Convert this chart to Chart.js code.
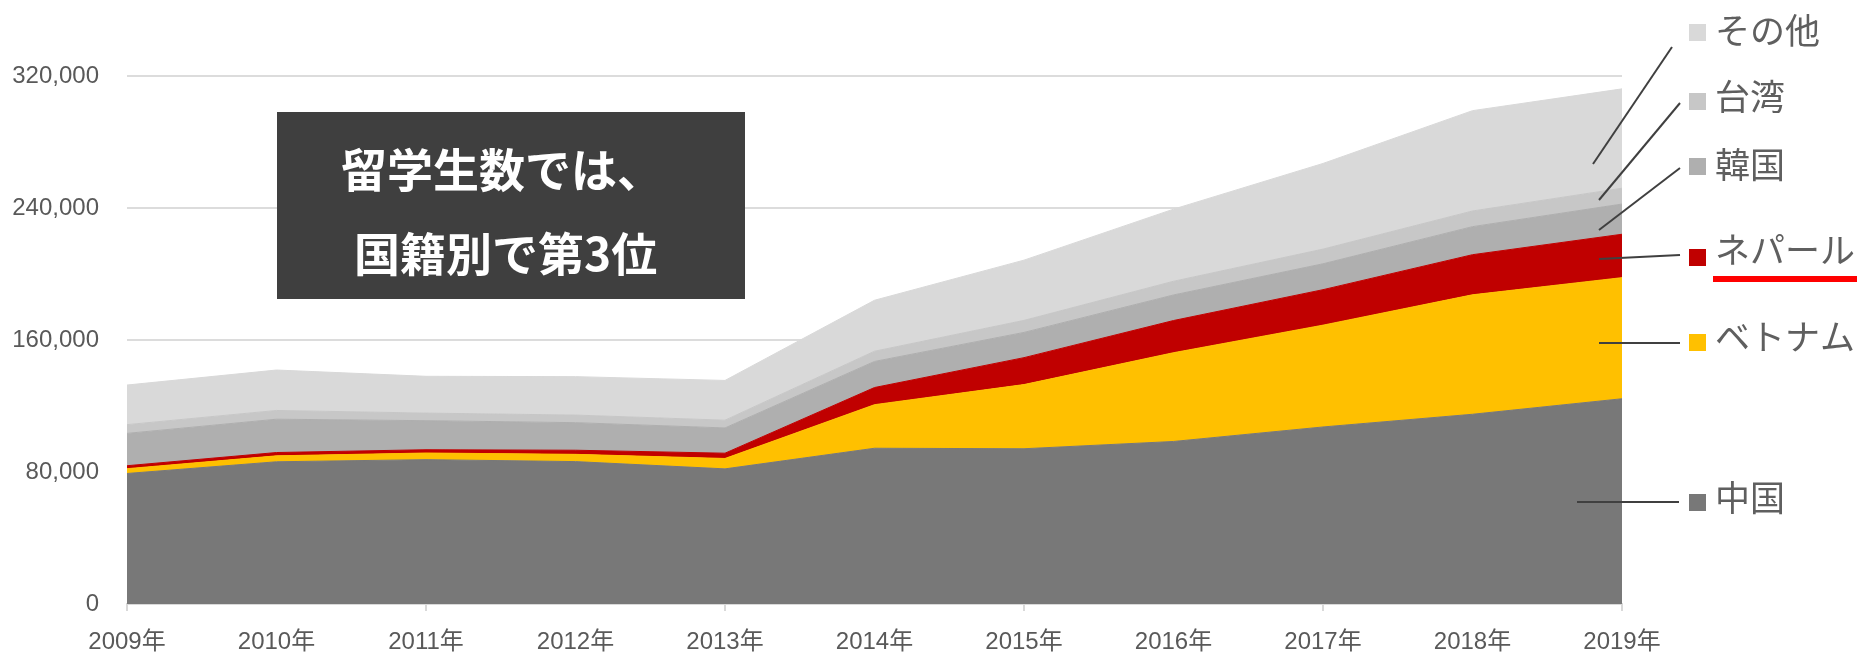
<!DOCTYPE html>
<html>
<head>
<meta charset="utf-8">
<script src="https://cdn.jsdelivr.net/npm/chart.js@4.4.1/dist/chart.umd.min.js"></script>
<style>
  html, body { margin: 0; padding: 0; background: #fff; }
</style>
</head>
<body>
<canvas id="areaChart" width="1865" height="664"></canvas>
<script>
// 在留外国人留学生数（国籍別）
var years = ["2009年", "2010年", "2011年", "2012年", "2013年", "2014年",
  "2015年", "2016年", "2017年", "2018年", "2019年"];

var china = [79100, 86200, 87500, 86300, 81900, 94400, 94100, 98500, 107300, 115000, 124400];
var vietnam = [2900, 3600, 4000, 4400, 6300, 26400, 38900, 53800, 61700, 72400, 73400];
var nepal = [1800, 2000, 2000, 2500, 3200, 10400, 16300, 19500, 21500, 24300, 26300];
var korea = [19600, 20200, 17600, 16700, 15300, 15800, 15300, 15500, 15700, 17000, 18300];
var taiwan = [5300, 5300, 4600, 4600, 4700, 6200, 7300, 8300, 8900, 9500, 9600];
var others = [24000, 24500, 22300, 23300, 24100, 30900, 36500, 43700, 51900, 60800, 60200];

var seriesNames = ["中国", "ベトナム", "ネパール", "韓国", "台湾", "その他"];
var seriesColors = ["#787878", "#ffc000", "#c00000", "#afafaf", "#c7c7c7", "#d9d9d9"];
var yTicks = [0, 80000, 160000, 240000, 320000];
var boxLines = ["留学生数では、", "国籍別で第3位"];

var seriesData = [china, vietnam, nepal, korea, taiwan, others];

// legend entries on the right, top to bottom: [square y, text y, leader line]
var legendRows = [
  { i: 5, y: 32, ty: 31, line: [1672, 47, 1593, 164] },
  { i: 4, y: 101, ty: 97, line: [1680, 103, 1599, 200] },
  { i: 3, y: 166, ty: 165, line: [1680, 168, 1599, 230] },
  { i: 2, y: 257, ty: 250, line: [1680, 255, 1599, 259] },
  { i: 1, y: 342, ty: 337, line: [1680, 343, 1599, 343] },
  { i: 0, y: 502, ty: 498, line: [1679, 502, 1577, 502] }
];

var callouts = {
  id: "callouts",
  afterDraw: function (chart) {
    var c = chart.ctx;
    c.save();

    // dark message box
    c.fillStyle = "#3f3f3f";
    c.fillRect(277, 112, 468, 187);
    c.fillStyle = "#ffffff";
    c.font = "bold 46px 'Noto Sans CJK JP', sans-serif";
    c.textAlign = "left";
    c.textBaseline = "middle";
    c.fillText(boxLines[0], 341, 170);
    c.fillText(boxLines[1], 354, 254);

    // legend with leader lines
    c.strokeStyle = "#404040";
    c.lineWidth = 2;
    legendRows.forEach(function (row) {
      var l = row.line;
      c.beginPath();
      c.moveTo(l[0], l[1]);
      c.lineTo(l[2], l[3]);
      c.stroke();

      c.fillStyle = seriesColors[row.i];
      c.fillRect(1689, row.y - 8, 17, 17);

      c.fillStyle = "#5f5f5f";
      c.font = "35px 'Noto Sans CJK JP', sans-serif";
      c.fillText(seriesNames[row.i], 1715, row.ty);
    });

    // red underline under ネパール
    c.fillStyle = "#ff0000";
    c.fillRect(1713, 276, 144, 6);

    c.restore();
  }
};

var ctx = document.getElementById("areaChart").getContext("2d");
var myChart = new Chart(ctx, {
  type: "line",
  data: {
    labels: years,
    datasets: seriesData.map(function (d, i) {
      return {
        label: seriesNames[i],
        data: d,
        backgroundColor: seriesColors[i],
        borderColor: seriesColors[i],
        borderWidth: 1,
        pointRadius: 0,
        tension: 0,
        fill: i === 0 ? "origin" : "-1"
      };
    })
  },
  options: {
    responsive: false,
    animation: false,
    layout: { padding: { top: 76, right: 243, bottom: 0, left: 0 } },
    plugins: {
      legend: { display: false },
      tooltip: { enabled: false }
    },
    scales: {
      x: {
        offset: false,
        afterFit: function (s) { s.height = 60; },
        grid: {
          drawOnChartArea: false,
          drawTicks: true,
          tickLength: 7,
          lineWidth: 2,
          color: function (c) { return c.index % 2 === 0 ? "#d9d9d9" : "rgba(0,0,0,0)"; }
        },
        border: { display: true, color: "#d9d9d9", width: 2 },
        ticks: {
          padding: 17,
          maxRotation: 0,
          autoSkip: false,
          color: "#595959",
          font: { family: "'Liberation Sans', 'Noto Sans CJK JP', sans-serif", size: 24 }
        }
      },
      y: {
        stacked: true,
        min: 0,
        max: 320000,
        afterFit: function (s) { s.width = 127; },
        afterBuildTicks: function (s) {
          s.ticks = yTicks.map(function (v) { return { value: v }; });
        },
        grid: { color: "#dcdcdc", lineWidth: 2, drawTicks: false },
        border: { display: false },
        ticks: {
          padding: 28,
          color: "#595959",
          font: { family: "'Liberation Sans', sans-serif", size: 24 },
          callback: function (v) { return v.toLocaleString("en-US"); }
        }
      }
    }
  },
  plugins: [callouts]
});
</script>
</body>
</html>
